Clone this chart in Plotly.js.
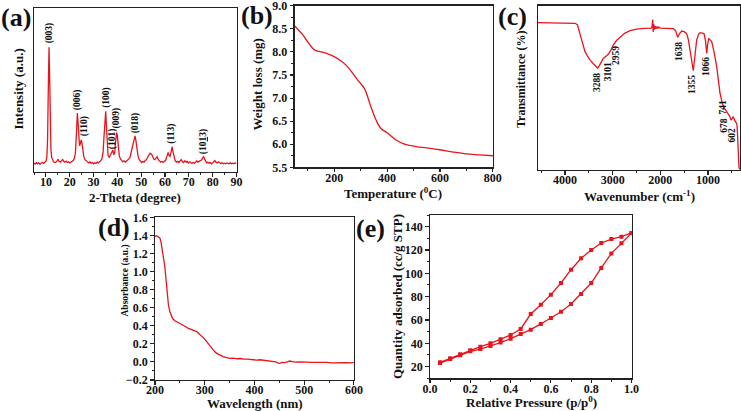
<!DOCTYPE html>
<html><head><meta charset="utf-8">
<script src="https://cdn.plot.ly/plotly-3.0.1.min.js"></script>
<style>html,body{margin:0;padding:0;background:#fff}#chart{width:741px;height:411px}</style>
</head><body><div id="chart"></div><script>
// ---------- (a) XRD ----------
const xrdAngle = [5.0,5.5,6.0,6.5,7.0,7.5,8.0,8.5,9.0,9.5,10.0,10.4,10.7,11.0,11.3,11.55,11.8,12.1,12.4,12.8,13.2,13.7,14.2,14.7,15.1,15.5,16.0,16.5,17.0,17.5,18.0,18.5,19.0,19.5,20.0,20.5,21.0,21.5,22.0,22.4,22.7,23.0,23.2,23.5,23.8,24.1,24.4,24.8,25.1,25.5,25.9,26.4,27.0,27.5,28.0,28.5,29.0,29.5,30.0,30.5,31.0,31.5,32.0,32.5,33.0,33.5,34.0,34.4,34.8,35.1,35.4,35.7,36.1,36.6,37.1,37.6,38.1,38.5,38.9,39.3,39.7,40.0,40.4,40.8,41.3,41.8,42.3,42.8,43.3,43.8,44.3,44.8,45.3,45.8,46.3,46.7,47.1,47.4,47.8,48.2,48.7,49.2,49.7,50.2,50.7,51.2,51.7,52.2,52.7,53.2,53.7,54.2,54.7,55.2,55.7,56.2,56.7,57.2,57.7,58.2,58.7,59.2,59.7,60.2,60.6,60.95,61.3,61.7,62.1,62.6,63.0,63.4,63.8,64.3,64.8,65.3,65.8,66.3,66.8,67.3,67.8,68.3,68.8,69.3,69.8,70.3,70.8,71.3,71.8,72.3,72.8,73.3,73.8,74.3,74.8,75.4,75.8,76.2,76.6,77.0,77.5,78.0,78.5,79.0,79.5,80.0,80.5,80.9,81.4,81.9,82.4,82.9,83.4,83.9,84.4,84.9,85.4,85.9,86.4,86.9,87.4,87.9,88.4,88.9,89.4,90.0];
const xrdIntensity = [5.5,4.8,5.8,5.0,5.6,4.7,5.4,5.9,5.2,5.8,6.5,9,20,50,76,60,30,14,9,7,6.3,5.8,6.0,6.8,7.8,6.5,6.0,6.8,7.6,6.5,6.0,6.6,5.8,6.2,5.5,6.0,6.4,7.0,8.5,12,20,32,36,30,21,16,17,19.5,18,13,9.5,7.5,6.5,6.0,5.5,6.2,5.3,5.8,5.0,5.6,5.2,6.0,5.5,6.2,6.8,8,12,22,35,37,28,16,10,9,10.5,12.5,13.4,10.5,12,19,24,22,15,10,8,7,6.2,6.8,6.0,6.6,7.2,8,9,12,15,19,21.5,22,19,14,9.5,7.5,6.5,5.8,6.4,6.0,7.0,7.5,9,10.5,11.5,11,10,8,7.5,8.5,9.3,7.5,6.5,6.0,6.4,5.8,6.5,7,8.5,10.5,12,10,9.5,12.5,15.4,12,8.5,6.8,6.0,6.5,5.8,7.0,7.5,6.3,5.8,6.8,6.0,6.5,5.5,6.2,5.6,5.2,5.8,5.4,6.0,6.8,6.0,6.4,6.8,7.5,8.8,9.3,8.0,6.5,5.6,5.9,5.4,5.8,5.0,5.5,6.4,7.0,6.0,5.5,6.2,5.8,5.2,5.6,5.0,5.4,5.0,5.5,5.2,5.0,5.6,5.1,5.4,5.0,5.5,5.3];
const xrdPeakLabels = ['(003)','(006)','(110)','(100)','(101)','(009)','(018)','(113)','(10<u>1</u>3)'];
const xrdLabelAngle = [11.6,23.2,26.2,35.4,37.7,39.8,47.4,62.7,76.2];
const xrdLabelLevel = [85,44,27.6,45.5,20.5,33.2,29.7,23.6,18.5];

// ---------- (b) TGA ----------
const tgaTemp = [48,80,100,124,150,175,200,222,244,266,289,314,339,358,377,403,434,466,510,550,599,650,700,750,800];
const tgaWeight = [8.58,8.38,8.22,8.05,8.0,7.96,7.9,7.82,7.72,7.57,7.39,7.21,6.81,6.53,6.34,6.24,6.09,6.0,5.95,5.92,5.88,5.83,5.79,5.77,5.75];

// ---------- (c) FTIR ----------
const irWavenumber = [4566,4400,4200,4000,3900,3790,3740,3685,3630,3580,3530,3476,3400,3340,3314,3280,3240,3197,3140,3092,3040,2987,2920,2846,2750,2636,2500,2357,2250,2190,2170,2160,2150,2140,2125,2110,2090,2070,2050,2030,2007,1900,1800,1728,1680,1636,1600,1552,1500,1447,1410,1378,1340,1309,1280,1238,1200,1168,1120,1084,1055,1027,1005,986,923,870,818,780,748,715,679,630,587,550,517,490,469,445,419,395,385,370,364,350,329];
const irTransmittance = [89.7,89.6,89.8,89.5,89.7,89.3,88.5,83.2,77.5,72,69.5,67,64.5,62.8,61.9,63.5,65.8,67.9,69.3,70.4,72.8,76,78.8,81,83.2,84.8,85.8,86.2,86.5,86.3,88,91.5,84,89,85.5,87.6,86,87.3,86.2,87,86.4,86.4,86.2,86,84.8,80.8,82.8,84.6,84.2,83,79,73,65,60.4,68,79,82.5,83.6,83.3,83,79,71,77,80.1,78.1,71.5,62.9,54,46.7,42.5,38.5,36.5,34.5,33,30.4,31.5,32.5,30.5,28.8,28,24,12,5.3,1.4,0.5];
const irPeakLabels = ['3288','3101','2959','1638','1355','1066','741','678','602'];
const irLabelWavenumber = [3314,3092,2915,1623,1321,1027,692,665,503];
const irLabelLevel = [53.3,59.6,69.8,72.0,52.2,63.1,38.5,27.5,21.5];

// ---------- (d) UV-Vis ----------
const uvWavelength = [200,202,205,208,210,212,215,218,220,222,223,225,227,230,233,235.5,240,243.5,248,252,257,262,266,270,275,280,284,289,294,299,304,309,314,319,324,330,337,344,351,358,365,372,378,385,392,398,404,411,418,425,431,437,443,448,451,455,460,466,471,476,482,490,498,506,515,525,535,545,555,565,575,585,592,600];
const uvAbsorbance = [1.39,1.397,1.39,1.38,1.37,1.33,1.24,1.12,1.04,0.9,0.81,0.7,0.63,0.556,0.5,0.48,0.455,0.445,0.43,0.42,0.41,0.39,0.375,0.365,0.355,0.345,0.335,0.31,0.287,0.258,0.224,0.185,0.15,0.12,0.095,0.075,0.058,0.048,0.04,0.042,0.035,0.038,0.03,0.032,0.027,0.025,0.021,0.024,0.02,0.018,0.01,0.008,0.0,-0.012,-0.015,-0.005,-0.008,0.0,0.01,0.004,-0.002,0.0,-0.005,-0.002,-0.006,-0.004,-0.008,-0.006,-0.01,-0.007,-0.01,-0.008,-0.011,-0.008];

// ---------- (e) N2 isotherm ----------
const relPressure = [0.05,0.10,0.15,0.20,0.25,0.30,0.35,0.40,0.45,0.50,0.55,0.60,0.65,0.70,0.75,0.80,0.85,0.90,0.95,1.00];
const adsorbed = [23.1,26.6,29.7,33.1,35.1,37.7,40.6,44.0,48.0,51.7,56.6,61.7,67.1,73.7,82.3,91.7,104.6,117.1,125.7,134.6];
const desorbed = [23.7,27.1,30.6,34.0,37.1,40.0,43.4,47.1,52.3,65.1,73.1,81.7,91.7,103.1,112.9,120.0,126.0,129.4,131.4,134.6];

const panelLetters = ['(a)','(b)','(c)','(d)','(e)'];

// ---------- layout geometry (pixels) ----------
const W = 741, H = 411;
const boxes = {
  a: [34, 236.5, 8, 172],
  b: [294.5, 493, 5.7, 167.3],
  c: [538, 740, 5.7, 170],
  d: [155, 354, 217.3, 380],
  e: [430, 631.7, 215, 378.3]
};
const dx = b => [b[0]/W, b[1]/W];
const dy = b => [1 - b[3]/H, 1 - b[2]/H];
const px = x => x/W, py = y => 1 - y/H;

const RED = '#e8141c';
const SERIF = '"Liberation Serif", "Times New Roman", serif';
const tickFont = {family: SERIF, size: 12, color: '#111', weight: 'bold'};

function axis(extra) {
  return Object.assign({
    showline: true, mirror: true, linecolor: '#222', linewidth: 1.3,
    ticks: 'outside', ticklen: 3.5, tickwidth: 1.1, tickcolor: '#222',
    showgrid: false, zeroline: false, tickfont: tickFont, fixedrange: true,
    ticklabeloverflow: 'allow'
  }, extra);
}
function xaxisOpts(extra) { return axis(Object.assign({ticklabelstandoff: -5}, extra)); }
function minor(d) { return {ticks: 'outside', ticklen: 2, tickwidth: 1, tickcolor: '#222', dtick: d}; }

const line = {color: RED, width: 1.3};
const traces = [
  {x: xrdAngle, y: xrdIntensity, xaxis: 'x', yaxis: 'y', mode: 'lines', line: line},
  {x: tgaTemp, y: tgaWeight, xaxis: 'x2', yaxis: 'y2', mode: 'lines', line: {color: RED, width: 1.3, shape: 'spline'}},
  {x: irWavenumber, y: irTransmittance, xaxis: 'x3', yaxis: 'y3', mode: 'lines', line: line},
  {x: uvWavelength, y: uvAbsorbance, xaxis: 'x4', yaxis: 'y4', mode: 'lines', line: line},
  {x: relPressure, y: adsorbed, xaxis: 'x5', yaxis: 'y5', mode: 'lines+markers', line: line, marker: {color: RED, size: 4, symbol: 'square'}},
  {x: relPressure, y: desorbed, xaxis: 'x5', yaxis: 'y5', mode: 'lines+markers', line: line, marker: {color: RED, size: 4, symbol: 'square'}}
];

const annotations = [];
function title(text, x, y, angle, size) {
  annotations.push({text: '<b>' + text + '</b>', xref: 'paper', yref: 'paper', x: px(x), y: py(y), xanchor: 'center', yanchor: 'middle',
    showarrow: false, textangle: angle || 0, font: {family: SERIF, size: size || 13, color: '#111', weight: 'bold'}});
}
title('2-Theta (degree)', 135, 197);
title('Intensity (a.u.)', 17.5, 89, -90);
title('Temperature (<sup>0</sup>C)', 393.5, 193);
title('Weight loss (mg)', 257.5, 85, -90);
title('Wavenumber (cm<sup>-1</sup>)', 639, 196);
title('Transmittance (%)', 521, 80, -90, 12);
title('Wavelength (nm)', 255, 403);
title('Absorbance (a.u.)', 124.5, 281, -90, 9.5);
title('Relative Pressure (p/p<sup>0</sup>)', 531, 402);
title('Quantity adsorbed (cc/g STP)', 397, 296, -90);

const letterPos = [[16,18],[257,16],[512,17],[114,227],[371,228]];
panelLetters.forEach((t, i) => annotations.push({text: '<b>' + t + '</b>', xref: 'paper', yref: 'paper', x: px(letterPos[i][0]), y: py(letterPos[i][1]),
  xanchor: 'center', yanchor: 'middle', showarrow: false, font: {family: SERIF, size: 26, color: '#111', weight: 'bold'}}));

const smallFont = {family: SERIF, size: 9.5, color: '#111', weight: 'bold'};
xrdPeakLabels.forEach((t, i) => annotations.push({text: '<b>' + t + '</b>', xref: 'x', yref: 'y', x: xrdLabelAngle[i], y: xrdLabelLevel[i],
  xanchor: 'center', yanchor: 'middle', textangle: -90, showarrow: false, font: smallFont}));
irPeakLabels.forEach((t, i) => annotations.push({text: '<b>' + t + '</b>', xref: 'x3', yref: 'y3', x: irLabelWavenumber[i], y: irLabelLevel[i],
  xanchor: 'center', yanchor: 'middle', textangle: -90, showarrow: false, font: smallFont}));

const layout = {
  width: W, height: H, margin: {l: 0, r: 0, t: 0, b: 0},
  paper_bgcolor: '#fff', plot_bgcolor: '#fff', showlegend: false,
  xaxis: xaxisOpts({domain: dx(boxes.a), anchor: 'y', range: [5, 90.01], tick0: 10, dtick: 10, minor: minor(5)}),
  yaxis: axis({domain: dy(boxes.a), anchor: 'x', range: [0, 100], ticks: '', showticklabels: false}),
  xaxis2: xaxisOpts({domain: dx(boxes.b), anchor: 'y2', range: [50, 800.5], tick0: 0, dtick: 200, minor: minor(100)}),
  yaxis2: axis({domain: dy(boxes.b), anchor: 'x2', range: [5.5, 9.002], dtick: 0.5, tick0: 0, tickformat: '.1f', minor: minor(0.25)}),
  xaxis3: xaxisOpts({domain: dx(boxes.c), anchor: 'y3', range: [4566, 329], tick0: 0, dtick: 1000, minor: minor(500)}),
  yaxis3: axis({domain: dy(boxes.c), anchor: 'x3', range: [0, 100], ticks: '', showticklabels: false}),
  xaxis4: xaxisOpts({domain: dx(boxes.d), anchor: 'y4', range: [200, 600.2], dtick: 100, tick0: 0, minor: minor(50)}),
  yaxis4: axis({domain: dy(boxes.d), anchor: 'x4', range: [-0.2, 1.601], dtick: 0.2, tick0: 0, tickformat: '.1f', minor: minor(0.1)}),
  xaxis5: xaxisOpts({domain: dx(boxes.e), anchor: 'y5', range: [0, 1.001], dtick: 0.2, tick0: 0, tickformat: '.1f', minor: minor(0.1)}),
  yaxis5: axis({domain: dy(boxes.e), anchor: 'x5', range: [10, 150], tick0: 20, dtick: 20, minor: minor(10)}),
  annotations: annotations
};

Plotly.newPlot('chart', traces, layout, {displayModeBar: false, staticPlot: true});
</script></body></html>
